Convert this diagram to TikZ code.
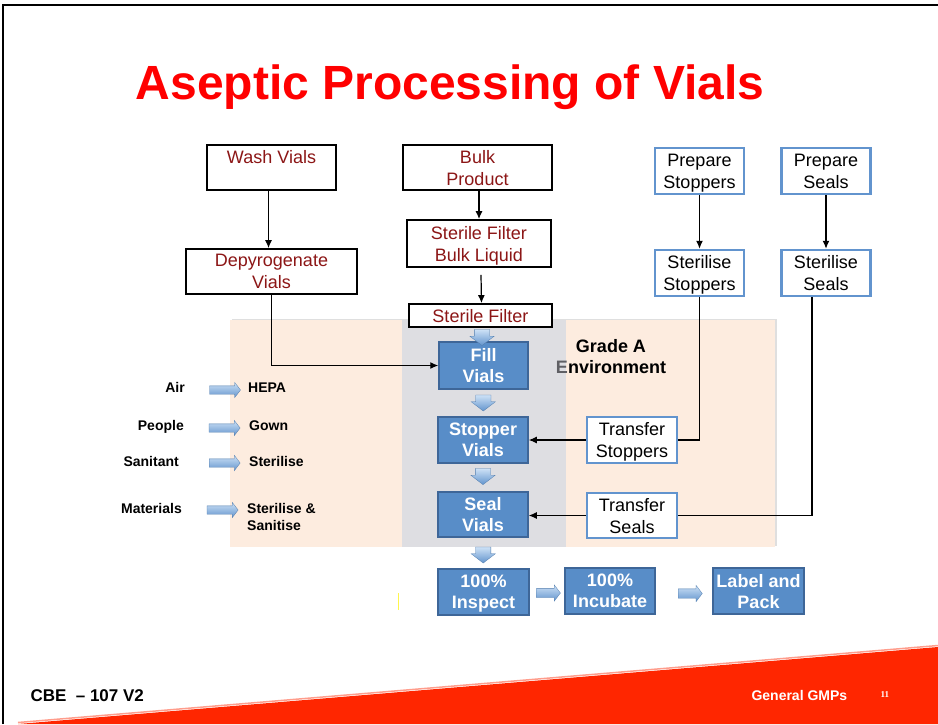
\documentclass[tikz,border=0pt]{standalone}
\usepackage{fontspec}
\setmainfont{Liberation Sans}
\newfontfamily\pagenumfont{Liberation Serif}
\usetikzlibrary{positioning, calc, arrows.meta, shapes.arrows, shadows}

\definecolor{titlered}{RGB}{255,0,0}
\definecolor{footred}{RGB}{255,38,0}
\definecolor{steptext}{RGB}{140,22,22}
\definecolor{lineblue}{RGB}{98,148,206}
\definecolor{fillblue}{RGB}{88,141,200}
\definecolor{edgeblue}{RGB}{62,102,152}
\definecolor{arrowlight}{RGB}{205,225,246}
\definecolor{arrowdark}{RGB}{98,148,205}
\definecolor{peach}{RGB}{253,236,223}
\definecolor{cleangrey}{RGB}{222,222,226}
\definecolor{envgrey}{RGB}{95,95,100}

\tikzset{
  boxfont/.style={font=\fontsize{18}{22}\selectfont},
  redbox/.style={draw=black, line width=1.8, fill=white, text=steptext, boxfont, align=center, inner sep=0, text depth=0},
  linebox/.style={draw=lineblue, line width=2.5, fill=white, text=black, boxfont, align=center, inner sep=0, text depth=0,
    minimum width=89, minimum height=46},
  fillbox/.style={draw=edgeblue, line width=1.5, fill=fillblue, text=white, align=center, inner sep=0, text depth=0,
    font=\fontsize{18}{21}\selectfont\bfseries, minimum width=90, minimum height=46},
  sidelabel/.style={font=\fontsize{14}{17}\selectfont\bfseries, inner sep=0, text height=10, text depth=0},
  flow/.style={-{Latex[length=8, width=7]}, line width=1.2},
  % block arrows: text height gives the shaft, minimum width the head
  blockarrow/.style={single arrow, single arrow tip angle=105, inner sep=0, text depth=0,
    draw=arrowdark!85!black, line width=0.3, top color=arrowlight, bottom color=arrowdark},
  blockdown/.style={blockarrow, rotate=-90, text height=15, minimum height=16, minimum width=24, single arrow head extend=4.5},
  blockright/.style={blockarrow, text height=9, minimum height=24, minimum width=16, single arrow head extend=3.5},
  blockin/.style={blockarrow, text height=8, minimum height=31, minimum width=15, single arrow head extend=3.5}
}

\begin{document}
\begin{tikzpicture}[x=1pt, y=-1pt]
  \useasboundingbox (0,0) rectangle (938,724);

  % slide frame and footer band
  \fill[footred] (18,724) -- (938,647) -- (938,724) -- cycle;
  \draw[white!55!footred, line width=1.5] (18,722.5) -- (938,645.5);
  \draw[line width=2.5] (3,724) -- (3,5) -- (938,5);

  \node[anchor=base, text=titlered, font=\fontsize{48}{56}\selectfont\bfseries] (title) at (450,99) {Aseptic Processing of Vials};

  % grade A room and filling line
  \fill[peach, drop shadow={opacity=0.25, shadow xshift=1.5, shadow yshift=-1.5}] (230,320) rectangle (775,547);
  \fill[cleangrey] (402,320) rectangle (566,547);
  \node[font=\fontsize{18}{21}\selectfont\bfseries, align=center] (grade) at (611,357) {Grade A\\\textcolor{envgrey}{E}nvironment};

  % vials and product preparation
  \node[redbox, minimum width=129, minimum height=45] (wash) at (271.5,167.5) {Wash Vials\\\mbox{}};
  \node[redbox, minimum width=171, minimum height=45] (depyro) at (271.5,271.5) {Depyrogenate\\Vials};
  \node[redbox, minimum width=149, minimum height=45] (bulk) at (477.5,167.5) {Bulk\\Product};
  \node[redbox, minimum width=144, minimum height=47] (sfbulk) at (479,243.5) {Sterile Filter\\Bulk Liquid};
  \node[redbox, minimum width=143, minimum height=23] (sfilter) at (480.5,315.5) {Sterile Filter};

  % stoppers and seals
  \node[linebox] (prepstop) at (699.5,171) {Prepare\\Stoppers};
  \node[linebox] (prepseal) at (826,171) {Prepare\\Seals};
  \node[linebox] (sterstop) at (699.5,273) {Sterilise\\Stoppers};
  \node[linebox] (sterseal) at (826,273) {Sterilise\\Seals};
  \node[linebox, minimum width=90] (transstop) at (632,440) {Transfer\\Stoppers};
  \node[linebox, minimum width=90, minimum height=45] (transseal) at (632,515.5) {Transfer\\Seals};

  % filling steps
  \node[fillbox, minimum width=89, minimum height=47] (fill) at (483.5,365.5) {Fill\\Vials};
  \node[fillbox] (stopper) at (483,440) {Stopper\\Vials};
  \node[fillbox, minimum height=45] (seal) at (483,514.5) {Seal\\Vials};
  \node[fillbox, minimum width=91] (inspect) at (483.5,592) {100\%\\Inspect};
  \node[fillbox] (incubate) at (610,591) {100\%\\Incubate};
  \node[fillbox, minimum width=91] (label) at (758.5,591) {Label and\\Pack};

  \draw[flow] ([xshift=-3]wash.south) -- ([xshift=-3]depyro.north);
  \draw[flow] (bulk.south -| sfbulk.north) -- (sfbulk.north);
  \draw[flow] ([xshift=2, yshift=-7]sfbulk.south) -- ([xshift=1]sfilter.north);
  \draw[flow] (depyro.south) |- (fill.west);
  \draw[flow] (prepstop) -- (sterstop);
  \draw[flow] (prepseal) -- (sterseal);
  \draw[line width=1.2] (sterstop.south) |- (transstop.east);
  \draw[flow] (transstop.west) -- (stopper.east);
  \draw[line width=1.2] ([xshift=-14]sterseal.south) |- (transseal.east);
  \draw[flow] (transseal.west) -- (transseal.west -| seal.east);

  \node[blockdown] (b1) at ($(sfilter.south)!0.5!(fill.north)$) {};
  \node[blockdown] (b2) at ($(fill.south)!0.39!(stopper.north)$) {};
  \node[blockdown] (b3) at ($(stopper.south)!0.36!(seal.north)$) {};
  \node[blockdown] (b4) at ($(seal.south)!0.47!(inspect.north)$) {};
  \node[blockright] (b5) at ([yshift=-1.5]$(inspect.east)!0.49!(incubate.west)$) {};
  \node[blockright] (b6) at ([yshift=-2.5]$(incubate.east)!0.58!(label.west)$) {};

  % inputs to the room
  \node[sidelabel, anchor=east] (air) at (185,387) {Air};
  \node[sidelabel, anchor=east] (people) at (184,425.5) {People};
  \node[sidelabel, anchor=east] (sanitant) at (179,461) {Sanitant};
  \node[sidelabel, anchor=east] (materials) at (182,508) {Materials};
  \node[sidelabel, anchor=west] (hepa) at (248,387) {HEPA};
  \node[sidelabel, anchor=west] (gown) at (249,425.5) {Gown};
  \node[sidelabel, anchor=west] (sterilise) at (249,461) {Sterilise};
  \node[sidelabel, anchor=north west, align=left, text height=, text depth=] (sanitise) at (247,503) {Sterilise \&\\Sanitise};

  \node[blockin] (i1) at ([yshift=-3]$(air.east)!0.61!(hepa.west)$) {};
  \node[blockin] (i2) at ([yshift=-2.5]$(people.east)!0.6!(gown.west)$) {};
  \node[blockin] (i3) at ([yshift=-2]$(sanitant.east)!0.63!(sterilise.west)$) {};
  \node[blockin] (i4) at ([yshift=-2]$(materials.east)!0.6!(materials.east -| sanitise.west)$) {};

  \draw[yellow!70, line width=0.7] (398,593) -- (398,610);

  % footer
  \node[anchor=base west, font=\fontsize{17}{20}\selectfont\bfseries] (course) at (27,701) {CBE~ -- 107 V2};
  \node[anchor=base west, text=white, font=\fontsize{14}{17}\selectfont\bfseries] (topic) at (748,700) {General GMPs};
  \node[anchor=base west, text=white, font=\fontsize{9}{10}\selectfont\pagenumfont\bfseries] (pagenum) at (877,697) {11};
\end{tikzpicture}
\end{document}
